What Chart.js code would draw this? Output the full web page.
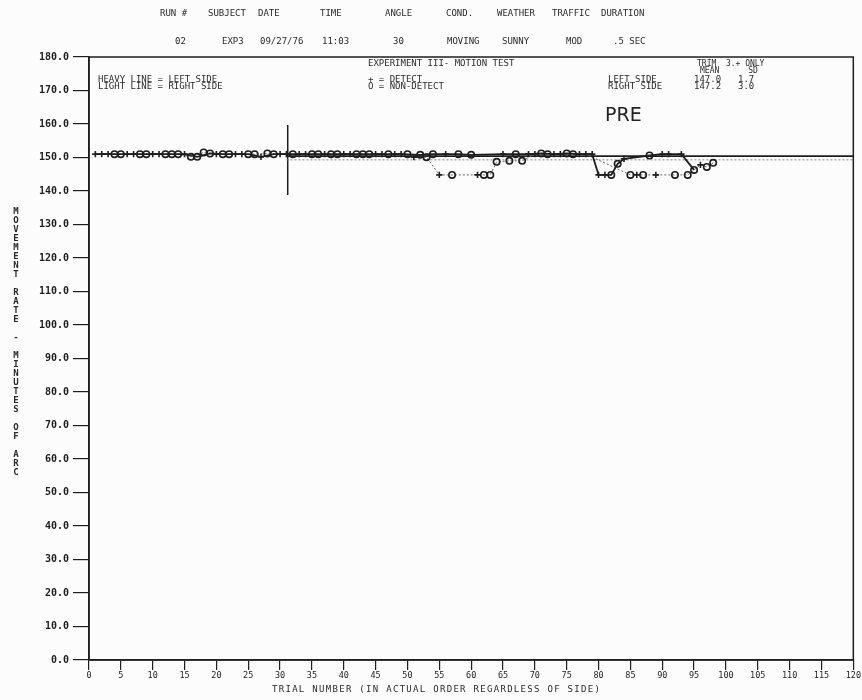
<!DOCTYPE html>
<html>
<head>
<meta charset="utf-8">
<script src="https://cdn.jsdelivr.net/npm/chart.js@4"></script>
<style>
  body { margin: 0; background: #fcfcfc; }
  #wrap { position: relative; width: 862px; height: 700px; }
  .t { position: absolute; font: 9px 'DejaVu Sans Mono', monospace; color: #2a2a2a; white-space: pre; line-height: 9px; }
  .ytitle { position: absolute; left: 11px; top: 207px; font: bold 9px 'DejaVu Sans Mono', monospace; color: #2a2a2a; line-height: 9px; width: 10px; text-align: center; }
  .pre { position: absolute; left: 605px; top: 103px; font: 19px 'DejaVu Sans', sans-serif; color: #222; }
</style>
</head>
<body>
<div id="wrap">
  <canvas id="chart" width="862" height="700"></canvas>

  <!-- run header -->
  <div class="t" style="left:160px;top:9px">RUN #</div>
  <div class="t" style="left:208px;top:9px">SUBJECT</div>
  <div class="t" style="left:258px;top:9px">DATE</div>
  <div class="t" style="left:320px;top:9px">TIME</div>
  <div class="t" style="left:385px;top:9px">ANGLE</div>
  <div class="t" style="left:446px;top:9px">COND.</div>
  <div class="t" style="left:497px;top:9px">WEATHER</div>
  <div class="t" style="left:552px;top:9px">TRAFFIC</div>
  <div class="t" style="left:601px;top:9px">DURATION</div>

  <div class="t" style="left:175px;top:37px">02</div>
  <div class="t" style="left:222px;top:37px">EXP3</div>
  <div class="t" style="left:260px;top:37px">09/27/76</div>
  <div class="t" style="left:322px;top:37px">11:03</div>
  <div class="t" style="left:393px;top:37px">30</div>
  <div class="t" style="left:447px;top:37px">MOVING</div>
  <div class="t" style="left:502px;top:37px">SUNNY</div>
  <div class="t" style="left:566px;top:37px">MOD</div>
  <div class="t" style="left:613px;top:37px">.5 SEC</div>

  <!-- in-plot notes -->
  <div class="t" style="left:368px;top:59px">EXPERIMENT III- MOTION TEST</div>
  <div class="t" style="left:98px;top:75px">HEAVY LINE = LEFT SIDE</div>
  <div class="t" style="left:98px;top:82px">LIGHT LINE = RIGHT SIDE</div>
  <div class="t" style="left:368px;top:75px">+ = DETECT</div>
  <div class="t" style="left:368px;top:82px">O = NON-DETECT</div>

  <div class="t" style="left:697px;top:59px;font-size:8px">TRIM  3.+ ONLY</div>
  <div class="t" style="left:700px;top:66px;font-size:8px">MEAN      SD</div>
  <div class="t" style="left:608px;top:75px">LEFT SIDE</div>
  <div class="t" style="left:608px;top:82px">RIGHT SIDE</div>
  <div class="t" style="left:694px;top:75px">147.0</div>
  <div class="t" style="left:694px;top:82px">147.2</div>
  <div class="t" style="left:738px;top:75px">1.7</div>
  <div class="t" style="left:738px;top:82px">3.0</div>

  <div class="pre">PRE</div>

  <div class="ytitle" id="ytitle"></div>
  <div class="t" style="left:272px;top:685px;letter-spacing:1.3px">TRIAL NUMBER (IN ACTUAL ORDER REGARDLESS OF SIDE)</div>
</div>
<script>
// Left side (heavy line)
const leftTrials = [1, 3, 5, 7, 9, 11, 13, 15, 17, 19, 21, 23, 25, 27, 29, 31,
  33, 35, 37, 39, 41, 43, 45, 47, 49, 52, 54, 56, 58, 60, 65, 67,
  69, 71, 73, 75, 77, 79, 80, 81, 82, 83, 84, 88, 90, 91, 93, 95];
const leftRates = [151.0, 151.0, 151.0, 151.0, 151.0, 151.0, 151.0, 151.0, 150.2, 151.2, 151.0, 151.0, 151.0, 150.2, 151.0, 151.0,
  151.0, 151.0, 151.0, 151.0, 151.0, 151.0, 151.0, 151.0, 151.0, 150.8, 151.0, 151.0, 151.0, 150.8, 151.0, 151.0,
  151.0, 151.2, 151.0, 151.2, 151.0, 151.0, 144.8, 144.8, 144.8, 148.1, 149.6, 150.6, 151.0, 151.0, 151.0, 146.3];
const leftMarks = "++O+O+O+OOO+O+O+" + "+O+O+O+O+OO+OO+O" + "+O+O++++OO+O+++O";

// Right side (light line)
const rightTrials = [2, 4, 6, 8, 10, 12, 14, 16, 18, 20, 22, 24, 26, 28, 30,
  32, 34, 36, 38, 40, 42, 44, 46, 48, 50, 51, 53, 55, 57, 61, 62, 63, 64, 66, 68,
  70, 72, 74, 76, 78, 85, 86, 87, 89, 92, 94, 96, 97, 98];
const rightRates = [151.0, 151.0, 151.0, 151.0, 151.0, 151.0, 151.0, 150.2, 151.5, 151.0, 151.0, 151.0, 151.0, 151.2, 151.0,
  151.0, 151.0, 151.0, 151.0, 151.0, 151.0, 151.0, 151.0, 151.0, 151.0, 150.1, 150.1, 144.8, 144.8, 144.8, 144.8, 144.8, 148.7, 149.0, 149.0,
  151.0, 151.0, 151.0, 151.0, 151.0, 144.8, 144.8, 144.8, 144.8, 144.8, 144.8, 147.8, 147.2, 148.4];
const rightMarks = "+O+O+OOOO+O+OO+" + "O+OO+OO++O+O+O+OOOO" + "O+O+O+O+O+OO+OO";

// Running levels drawn after the separator
const levelTrials = [31, 120];
const leftLevel = [150.4, 150.4];
const rightLevel = [149.3, 149.3];

// Separator mark
const sepTrials = [31.2, 31.2];
const sepRates = [138.8, 159.7];

const yTitle = "MOVEMENT RATE - MINUTES OF ARC";
document.getElementById("ytitle").innerHTML =
  yTitle.split("").map(c => c === " " ? "&nbsp;" : c).join("<br>");

function pts(xs, ys) {
  return xs.map((x, i) => ({ x: x, y: ys[i] }));
}
function styles(marks) {
  return marks.split("").map(m => m === "+" ? "cross" : "circle");
}

const ink = "#1e1e1e";

const frame = {
  id: "frame",
  afterDraw(chart) {
    const { ctx, chartArea: a } = chart;
    ctx.save();
    ctx.strokeStyle = ink;
    ctx.lineWidth = 1.5;
    ctx.strokeRect(a.left, a.top, a.right - a.left, a.bottom - a.top);
    ctx.restore();
  }
};

new Chart(document.getElementById("chart"), {
  type: "line",
  data: {
    datasets: [
      {
        label: "Left side",
        data: pts(leftTrials, leftRates),
        borderColor: ink,
        borderWidth: 1.8,
        pointStyle: styles(leftMarks),
        pointRadius: 3.2,
        pointBorderWidth: 1.6,
        pointBorderColor: ink,
        pointBackgroundColor: "rgba(0,0,0,0)"
      },
      {
        label: "Right side",
        data: pts(rightTrials, rightRates),
        borderColor: "#666",
        borderWidth: 1,
        borderDash: [2, 2],
        pointStyle: styles(rightMarks),
        pointRadius: 3.2,
        pointBorderWidth: 1.6,
        pointBorderColor: ink,
        pointBackgroundColor: "rgba(0,0,0,0)"
      },
      {
        label: "Left level",
        data: pts(levelTrials, leftLevel),
        borderColor: ink,
        borderWidth: 1.6,
        pointRadius: 0
      },
      {
        label: "Right level",
        data: pts(levelTrials, rightLevel),
        borderColor: "#888",
        borderWidth: 1,
        borderDash: [2, 2],
        pointRadius: 0
      },
      {
        label: "Separator",
        data: pts(sepTrials, sepRates),
        borderColor: ink,
        borderWidth: 1.5,
        pointRadius: 0
      }
    ]
  },
  options: {
    responsive: false,
    animation: false,
    layout: { autoPadding: false, padding: { top: 57, right: 4, left: 0, bottom: 0 } },
    scales: {
      x: {
        type: "linear",
        min: 0,
        max: 120,
        afterFit: s => { s.height = 40; },
        ticks: { stepSize: 5, color: ink, padding: 1, maxRotation: 0,
          font: { family: "DejaVu Sans Mono", size: 8.5 } },
        grid: { drawOnChartArea: false, tickLength: 10, color: ink, lineWidth: 1.2 },
        border: { color: ink, width: 1.5 }
      },
      y: {
        min: 0,
        max: 180,
        afterFit: s => { s.width = 89; },
        ticks: { stepSize: 10, color: ink, padding: 4,
          callback: v => v.toFixed(1),
          font: { family: "DejaVu Sans Mono", size: 10, weight: "bold" } },
        grid: { drawOnChartArea: false, tickLength: 16, color: ink, lineWidth: 1.2 },
        border: { color: ink, width: 1.5 }
      }
    },
    plugins: {
      legend: { display: false },
      tooltip: { enabled: false }
    }
  },
  plugins: [frame]
});
</script>
</body>
</html>
